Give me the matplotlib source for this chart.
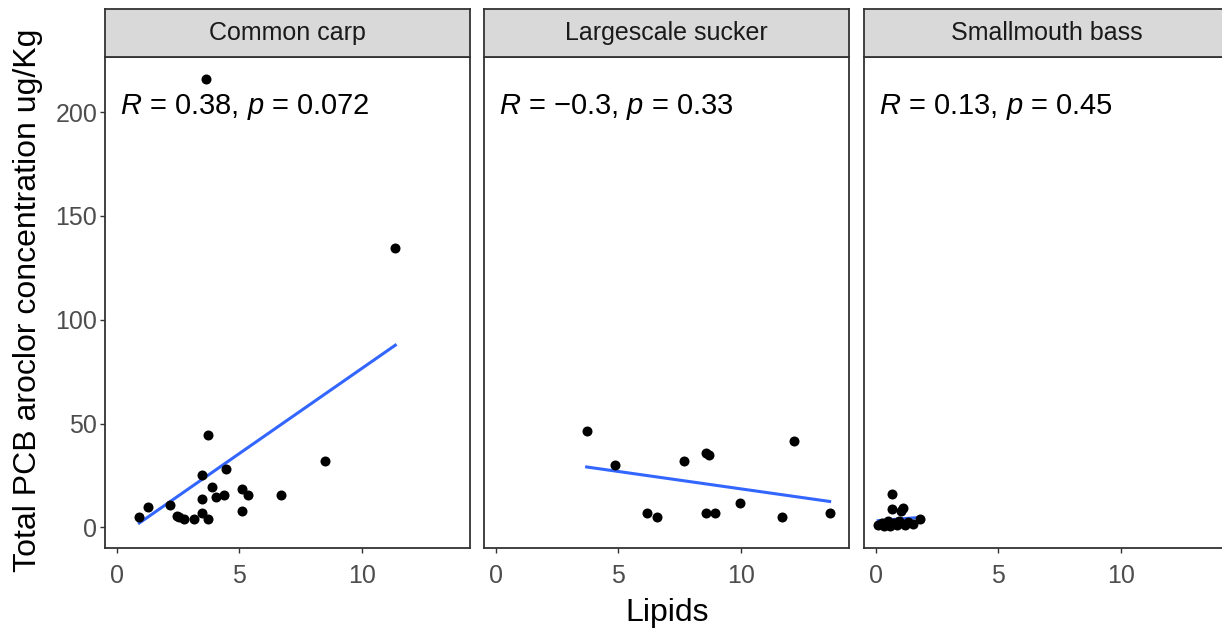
import numpy as np
import matplotlib
matplotlib.use("Agg")
import matplotlib.pyplot as plt

plt.rcParams['font.family'] = ['Liberation Sans', 'DejaVu Sans']
plt.rcParams['mathtext.fontset'] = 'custom'
plt.rcParams['mathtext.rm'] = 'Liberation Sans'
plt.rcParams['mathtext.it'] = 'Liberation Sans:italic'

species = ["Common carp", "Largescale sucker", "Smallmouth bass"]

carp_lipids = [0.92, 1.28, 2.17, 2.44, 2.55, 2.75, 3.16, 3.47, 3.71, 3.47, 3.47, 3.71,
               3.90, 4.07, 4.39, 4.45, 5.10, 5.34, 5.10, 6.72, 8.51, 11.37, 3.63]
carp_pcb = [5.2, 10.0, 10.6, 5.4, 4.8, 4.2, 4.2, 7.1, 4.2, 13.8, 25.4, 44.7,
            19.3, 14.8, 15.8, 28.3, 18.6, 15.8, 8.0, 15.8, 32.1, 134.5, 216.2]

sucker_lipids = [3.71, 4.85, 6.18, 6.59, 7.70, 8.59, 8.70, 8.59, 8.94, 9.98, 11.68, 12.17, 13.63]
sucker_pcb = [46.6, 30.2, 7.1, 5.2, 32.1, 36.0, 35.0, 7.1, 7.1, 11.9, 5.2, 41.8, 7.1]

bass_lipids = [0.10, 0.25, 0.35, 0.45, 0.50, 0.60, 0.66, 0.68, 0.75, 0.85, 0.95,
               1.04, 1.11, 1.20, 1.30, 1.50, 1.79]
bass_pcb = [1.0, 2.0, 0.5, 1.5, 3.0, 0.8, 15.9, 8.7, 2.0, 1.2, 3.0,
            7.9, 9.5, 1.0, 2.5, 1.5, 3.9]

cor_labels = [r"$\it{R}$ = 0.38, $\it{p}$ = 0.072",
              r"$\it{R}$ = $-$0.3, $\it{p}$ = 0.33",
              r"$\it{R}$ = 0.13, $\it{p}$ = 0.45"]

x_ticks = [0, 5, 10]
y_ticks = [0, 50, 100, 150, 200]

data = [(carp_lipids, carp_pcb), (sucker_lipids, sucker_pcb), (bass_lipids, bass_pcb)]

W, H = 1222, 631
fig = plt.figure(figsize=(W / 100, H / 100), dpi=100)

lefts = [105, 484, 864]
pw = 365
p_top, p_bot = 57, 548.3
s_top = 9
edge = "#333333"

for i, (name, (lx, ly), lab) in enumerate(zip(species, data, cor_labels)):
    ax = fig.add_axes([lefts[i] / W, 1 - p_bot / H, pw / W, (p_bot - p_top) / H])
    ax.set_xlim(-0.48, 14.42)
    ax.set_ylim(-10.1, 226.6)
    x = np.array(lx)
    y = np.array(ly)
    coef = np.polyfit(x, y, 1)
    xs = np.linspace(x.min(), x.max(), 50)
    ax.plot(xs, np.polyval(coef, xs), color="#3366FF", lw=2.2, zorder=2)
    ax.scatter(x, y, s=52, color="black", zorder=3, linewidths=0)
    ax.text(0.12, 199, lab, fontsize=21, ha="left", va="baseline", color="black")
    ax.set_xticks(x_ticks)
    ax.set_yticks(y_ticks)
    ax.tick_params(axis="both", length=3.6, width=1.0, color=edge, labelsize=18,
                   labelcolor="#4D4D4D")
    ax.tick_params(axis="x", pad=8)
    ax.tick_params(axis="y", pad=2)
    if i > 0:
        ax.tick_params(axis="y", left=False, labelleft=False)
    for sp in ax.spines.values():
        sp.set_color(edge)
        sp.set_linewidth(1.3)

    sax = fig.add_axes([lefts[i] / W, 1 - p_top / H, pw / W, (p_top - s_top) / H])
    sax.set_facecolor("#D9D9D9")
    sax.set_xticks([])
    sax.set_yticks([])
    for sp in sax.spines.values():
        sp.set_color(edge)
        sp.set_linewidth(1.3)
    sax.text(0.5, 0.5, name, fontsize=18, color="#1A1A1A", ha="center", va="center",
             transform=sax.transAxes)

fig.text(28 / W, 1 - 300 / H, "Total PCB aroclor concentration ug/Kg", rotation=90,
         fontsize=23, ha="center", va="center", color="black")
fig.text(667 / W, 1 - 621 / H, "Lipids", fontsize=23, ha="center", va="baseline",
         color="black")

fig.savefig("out.png", dpi=100)
